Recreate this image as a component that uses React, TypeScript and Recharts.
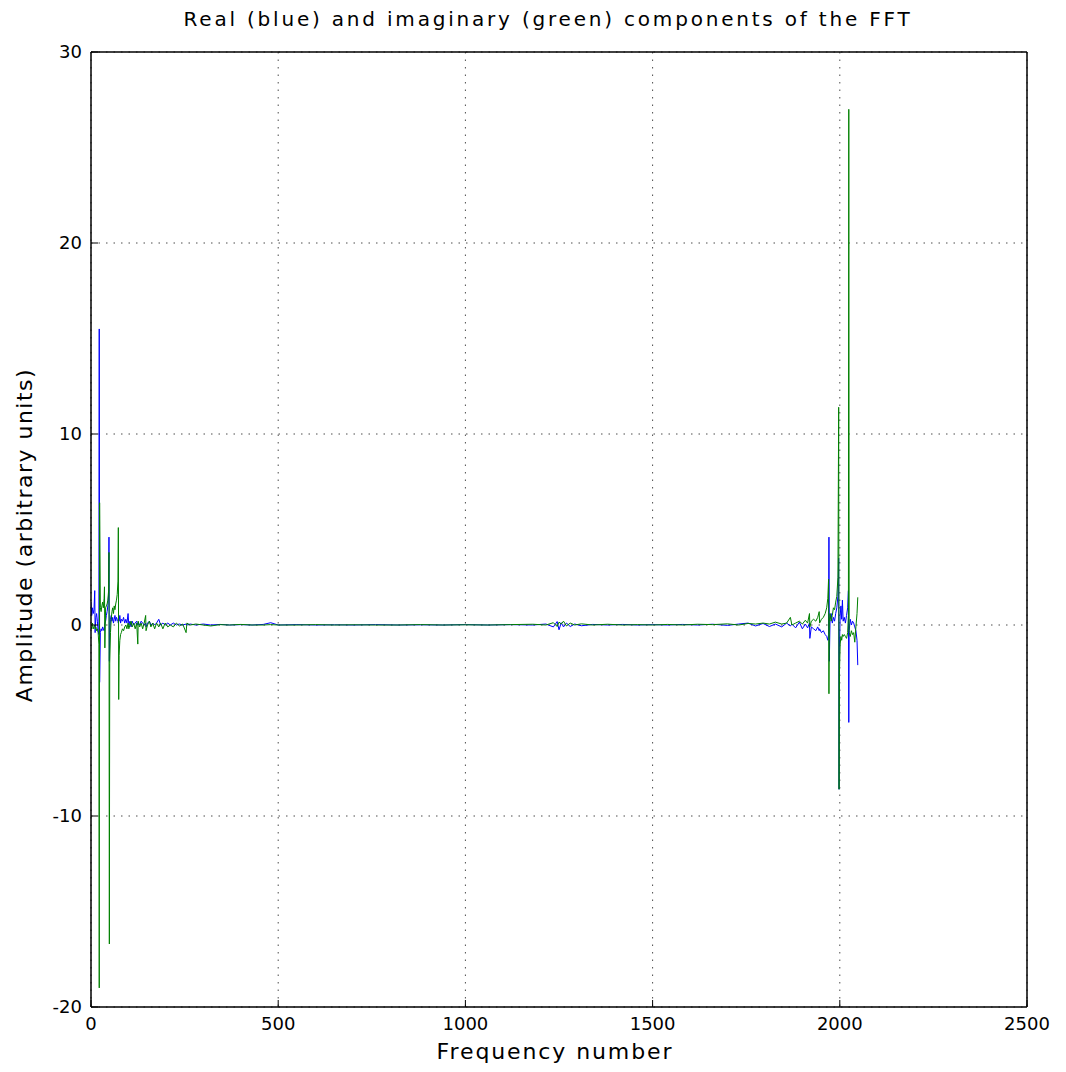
import React from "react";
import { CartesianGrid, Line, LineChart, XAxis, YAxis } from "recharts";

// frequency bins that were sampled off the plot (dense around the spikes)
const freqIdx = [
  0, 2, 4, 6, 8, 10, 11, 13, 15, 17, 19, 21, 22, 23, 25, 27, 29, 31, 33, 35, 36, 37, 39, 41, 43, 45, 47, 48, 49, 50,
  52, 54, 56, 58, 60, 62, 64, 66, 68, 70, 72, 73, 74, 75, 77, 79, 81, 84, 87, 90, 93, 96, 99, 101, 104, 107, 110,
  114, 118, 122, 125, 126, 130, 134, 138, 142, 146, 147, 151, 156, 160, 165, 170, 175, 181, 186, 192, 198, 205, 212,
  220, 228, 236, 245, 254, 256, 265, 280, 300, 320, 345, 370, 400, 430, 460, 480, 500, 550, 600, 650, 700, 760, 820,
  880, 940, 1000, 1060, 1120, 1180, 1215, 1235, 1245, 1250, 1256, 1262, 1270, 1280, 1292, 1310, 1340, 1380, 1420,
  1460, 1500, 1540, 1580, 1620, 1660, 1700, 1730, 1755, 1775, 1795, 1812, 1828, 1845, 1858, 1868, 1872, 1882, 1892,
  1900, 1908, 1914, 1919, 1920, 1924, 1930, 1936, 1941, 1945, 1946, 1951, 1956, 1961, 1965, 1968, 1970, 1971, 1972,
  1974, 1977, 1980, 1983, 1986, 1989, 1992, 1995, 1997, 1998, 1999, 2001, 2003, 2005, 2007, 2009, 2012, 2015, 2018,
  2021, 2023, 2024, 2025, 2028, 2031, 2034, 2037, 2040, 2043, 2046, 2048,
];

const realPart = [
  1.2, 0.5, 0.9, 0.6, 0.8, 1.8, -0.4, 0.4, 0.6, 0.2, -0.3, -0.5, 15.5, -3.0, -0.4, -0.2, -0.3, -0.1, -0.2, -0.3, -0.1,
  0.1, 0.2, 0.5, 0.7, 1.0, 1.6, 4.6, -1.9, -0.4,
  0.3, 0.5, 0.2, 0.4, 0.1, 0.3, 0.5, 0.2, 0.4, 0.3, 0.2, 0.1, 0.3, 0.2, 0.5, 0.1, 0.3, 0.2, 0.4, 0.1, 0.3, 0.1, 0.6,
  0.0, 0.2, -0.1, 0.2,
  0.0, 0.1, 0.2, 0.0, 0.1, 0.0, 0.2, 0.1, 0.0, 0.1, -0.1, 0.1, 0.2, 0.0, 0.1, 0.0, 0.1, 0.3, 0.0, 0.1, 0.0, 0.1, 0.0,
  0.1, 0.0, 0.05, 0.0, 0.05, 0.0, 0.05, 0.0, 0.05, 0.0, 0.03, 0.0, 0.02, 0.0, 0.03, 0.12, 0.0, 0.02, 0.0, 0.01, 0.0,
  0.02, 0.0,
  0.01, 0.0, 0.02, 0.0, 0.02, 0.0, 0.05, -0.1, 0.18, -0.25, 0.12, -0.1, 0.1, -0.08, 0.05, -0.04, 0.03, 0.0, 0.03,
  0.0, 0.02, 0.0, 0.03, 0.0, 0.04, -0.02, 0.05, 0.1, -0.05, 0.08, -0.08, 0.05, -0.1, 0.1, -0.05, 0.05, -0.15, 0.15,
  -0.2, 0.05, -0.15, 0.1, -0.7, -0.1, -0.2, -0.3, -0.1, -0.3, -0.2, -0.4, -0.3, -0.5, -0.6, -0.8, -0.5, 4.6, -1.9,
  0.3, 0.6, 0.1, 0.4, 0.2, 0.6, 0.9, 1.5, 3.5, -8.6, -1.2, 0.5, 1.0, 0.3, 1.3, 0.2, 0.4, 0.1, 0.5,
  0.9, 1.8, -5.1, -0.3, 0.3, 0.0, 0.2, 0.1, -0.1, -0.3, -0.8, -2.1,
];

const imagPart = [
  -0.1, -0.2, 0.1, -0.2, -0.1, 0.0, -0.2, -0.1, -0.3, -0.2, -0.4, -1.0, -19.0, 6.4, 0.9, 0.7, 1.0, 1.2, 0.9, 1.4, 2.0,
  -1.2, 0.9, 1.0, 1.1, 1.3, 1.8, 3.8, -16.7, -2.0,
  -0.4, 0.3, 0.7, 0.9, 0.6, 1.0, 0.8, 1.1, 1.3, 1.6, 2.3, 5.1, -3.9, -1.6, -0.8, -0.5, -0.4, -0.2, -0.3, -0.1, 0.0,
  -0.2, 0.1, -0.2, 0.0, 0.2, -0.1,
  0.1, -0.2, 0.1, -1.0, 0.2, -0.1, 0.1, -0.2, 0.1, 0.5, -0.3, 0.0, 0.2, -0.1, 0.1, -0.2, 0.1, -0.1, 0.1, -0.2, 0.1,
  -0.1, 0.0,
  -0.1, 0.1, -0.05, 0.05, -0.4, 0.1, 0.0, 0.05, 0.0, -0.05, 0.02, 0.0, 0.03, 0.0, 0.0, 0.02, 0.0, 0.0, 0.02, 0.0, 0.01,
  0.0, 0.0,
  0.02, 0.0, 0.01, 0.0, 0.02, 0.04, 0.0, 0.12, -0.08, 0.15, 0.05, 0.2, -0.05, 0.1, 0.0, 0.06, 0.0, 0.04, 0.0,
  0.02, 0.0, 0.03, 0.0, 0.04, 0.02, 0.06, 0.0, 0.08, 0.05, 0.1, 0.05, 0.15, 0.05, 0.1, 0.4, 0.0, 0.1, 0.2,
  0.05, 0.25, 0.1, 0.6, -0.1, 0.2, 0.3, 0.2, 0.4, 0.7, 0.1, 0.3, 0.4, 0.6, 0.9, 1.4, 2.4, -3.6, 0.2,
  0.6, 0.2, 0.5, 0.9, 0.8, 1.2, 1.5, 2.5, 11.4, -8.6, -2.5, -1.0, -0.6, -0.8, -0.5, -0.6, -0.5, -0.6, -0.7,
  -0.4, 0.5, 27.0, -0.4, -0.6, -0.3, -0.5, -0.4, -0.9, -0.1, 0.6, 1.45,
];

const xTicks = [0, 500, 1000, 1500, 2000, 2500];
const yTicks = [-20, -10, 0, 10, 20, 30];

const font = "'DejaVu Sans', 'Liberation Sans', sans-serif";

const chartData = freqIdx.map((n, i) => ({ n, re: realPart[i], im: imagPart[i] }));

export default function App() {
  const tickStyle = { fill: "#000", fontSize: 18, fontFamily: font };
  const frame = { stroke: "#000", strokeWidth: 1.5 };
  const tickLine = { stroke: "#000", strokeWidth: 1 };

  return (
    <div style={{ position: "absolute", left: 0, top: 0, width: 1066, height: 1072, background: "#fff", fontFamily: font }}>
      <div
        style={{
          position: "absolute",
          left: 98,
          top: 6,
          width: 900,
          lineHeight: "26px",
          textAlign: "center",
          fontSize: 20,
          letterSpacing: 2.8,
          color: "#000",
        }}
      >
        Real (blue) and imaginary (green) components of the FFT
      </div>
      <LineChart
        width={1066}
        height={1072}
        data={chartData}
        margin={{ top: 42, right: 29, bottom: 25, left: 41 }}
      >
        <CartesianGrid
          xAxisId="b"
          yAxisId="l"
          stroke="#000"
          strokeOpacity={0.7}
          strokeDasharray="1.5 6"
        />
        <XAxis
          xAxisId="b"
          type="number"
          dataKey="n"
          domain={[0, 2500]}
          ticks={xTicks}
          interval={0}
          height={40}
          tickSize={-7}
          tickMargin={17}
          axisLine={frame}
          tickLine={tickLine}
          tick={tickStyle}
          allowDataOverflow
        />
        <XAxis
          xAxisId="t"
          orientation="top"
          type="number"
          dataKey="n"
          domain={[0, 2500]}
          ticks={xTicks}
          interval={0}
          height={10}
          tickSize={-7}
          axisLine={frame}
          tickLine={tickLine}
          tick={false}
          allowDataOverflow
        />
        <YAxis
          yAxisId="l"
          type="number"
          domain={[-20, 30]}
          ticks={yTicks}
          interval={0}
          width={50}
          tickSize={-7}
          tickMargin={16}
          axisLine={frame}
          tickLine={tickLine}
          tick={tickStyle}
          allowDataOverflow
        />
        <YAxis
          yAxisId="r"
          orientation="right"
          type="number"
          domain={[-20, 30]}
          ticks={yTicks}
          interval={0}
          width={10}
          tickSize={-7}
          axisLine={frame}
          tickLine={tickLine}
          tick={false}
          allowDataOverflow
        />
        <Line
          xAxisId="b"
          yAxisId="l"
          type="linear"
          dataKey="re"
          stroke="#0000ff"
          strokeWidth={1}
          dot={false}
          isAnimationActive={false}
        />
        <Line
          xAxisId="b"
          yAxisId="l"
          type="linear"
          dataKey="im"
          stroke="#008000"
          strokeWidth={1}
          dot={false}
          isAnimationActive={false}
        />
      </LineChart>
      <div
        style={{
          position: "absolute",
          left: 355,
          top: 1039,
          width: 400,
          lineHeight: "26px",
          textAlign: "center",
          fontSize: 22,
          letterSpacing: 1.9,
          color: "#000",
        }}
      >
        Frequency number
      </div>
      <div
        style={{
          position: "absolute",
          left: -175,
          top: 522,
          width: 400,
          height: 26,
          lineHeight: "26px",
          textAlign: "center",
          fontSize: 22,
          letterSpacing: 1.5,
          color: "#000",
          transform: "rotate(-90deg)",
        }}
      >
        Amplitude (arbitrary units)
      </div>
    </div>
  );
}
